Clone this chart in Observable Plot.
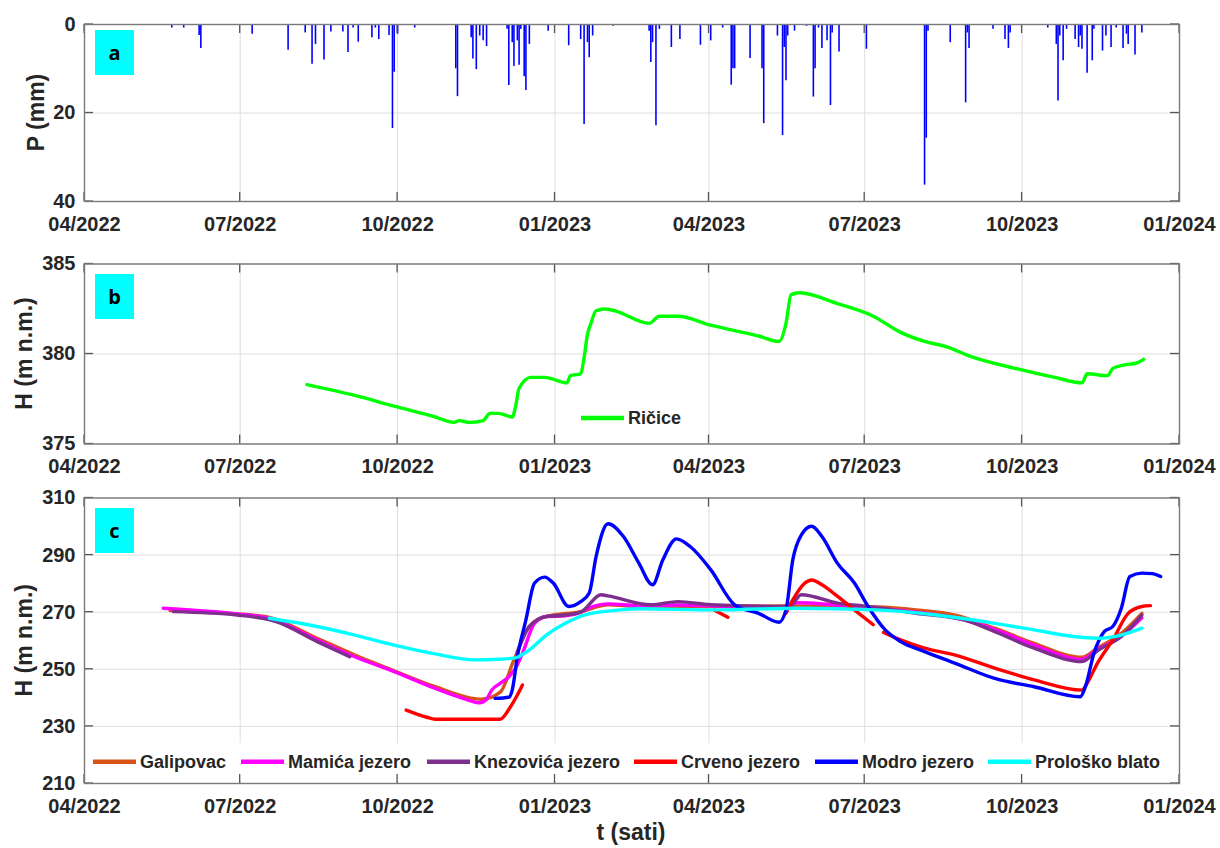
<!DOCTYPE html>
<html><head><meta charset="utf-8">
<script src="https://cdn.jsdelivr.net/npm/d3@7"></script>
<script src="https://cdn.jsdelivr.net/npm/@observablehq/plot@0.6"></script>
<style>
body{margin:0;background:#fff;overflow:hidden;}
#chart{position:relative;width:1220px;height:848px;}
#chart svg{position:absolute;left:0;}
</style></head><body><div id="chart"></div>
<script>
// ---------- DATA ----------
const xTickDates = ["2022-04-01","2022-07-01","2022-10-01","2023-01-01","2023-04-01","2023-07-01","2023-10-01","2024-01-01"];
const xTickLabels = ["04/2022","07/2022","10/2022","01/2023","04/2023","07/2023","10/2023","01/2024"];

const precipDates = ["2022-05-22","2022-05-29","2022-06-07","2022-06-08","2022-07-08","2022-07-29","2022-08-08","2022-08-12","2022-08-14","2022-08-19","2022-08-23","2022-08-30","2022-09-02","2022-09-05","2022-09-08","2022-09-16","2022-09-18","2022-09-20","2022-09-26","2022-09-28","2022-09-29","2022-10-01","2022-10-11","2022-11-04","2022-11-05","2022-11-13","2022-11-14","2022-11-16","2022-11-18","2022-11-20","2022-11-22","2022-12-04","2022-12-05","2022-12-07","2022-12-08","2022-12-10","2022-12-11","2022-12-12","2022-12-14","2022-12-15","2022-12-17","2022-12-28","2023-01-09","2023-01-16","2023-01-18","2023-01-20","2023-01-21","2023-01-23","2023-02-04","2023-02-25","2023-02-26","2023-02-27","2023-03-01","2023-03-03","2023-03-10","2023-03-15","2023-03-27","2023-04-02","2023-04-09","2023-04-14","2023-04-15","2023-04-16","2023-04-25","2023-05-02","2023-05-03","2023-05-11","2023-05-14","2023-05-15","2023-05-16","2023-05-17","2023-05-21","2023-05-28","2023-06-01","2023-06-02","2023-06-04","2023-06-06","2023-06-09","2023-06-11","2023-06-12","2023-06-16","2023-07-02","2023-08-05","2023-08-06","2023-08-07","2023-08-20","2023-08-29","2023-08-30","2023-08-31","2023-09-14","2023-09-21","2023-09-23","2023-09-24","2023-10-16","2023-10-21","2023-10-22","2023-10-23","2023-10-25","2023-10-27","2023-11-01","2023-11-03","2023-11-04","2023-11-05","2023-11-08","2023-11-11","2023-11-12","2023-11-17","2023-11-19","2023-11-22","2023-11-25","2023-11-29","2023-12-01","2023-12-02","2023-12-06","2023-12-10"];
const precipMm = [0.8,0.8,2.5,5.4,2.2,5.8,1.9,9.0,4.5,8.0,1.7,1.7,6.3,0.8,4.0,3.0,0.8,3.4,2.5,23.5,10.8,2.2,0.8,10.0,16.3,3.0,7.8,10.2,2.6,3.7,5.0,1.1,13.8,4.1,9.5,3.7,9.2,1.1,11.8,14.9,4.5,1.5,4.8,3.4,22.6,4.1,7.5,2.6,0.4,1.5,8.6,4.1,22.9,1.1,5.2,3.4,4.7,3.7,0.8,13.7,10.0,10.0,7.7,10.0,22.4,2.6,25.1,5.2,12.7,2.6,1.5,0.4,16.4,10.0,0.8,5.4,3.7,18.3,1.9,6.2,5.6,36.3,25.7,1.5,4.1,17.7,1.9,5.4,1.1,3.4,5.4,1.9,0.8,4.5,17.3,2.6,8.2,1.1,3.4,5.2,2.6,5.6,11.0,8.2,1.1,6.0,2.6,5.2,0.8,5.4,2.2,4.5,6.9,1.9];

const ricice = [["2022-08-09",378.3],["2022-09-06",377.7],["2022-09-29",377.1],["2022-10-23",376.5],["2022-11-03",376.2],["2022-11-06",376.3],["2022-11-12",376.2],["2022-11-20",376.3],["2022-11-24",376.7],["2022-11-29",376.7],["2022-12-07",376.5],["2022-12-09",377.1],["2022-12-11",378.1],["2022-12-18",378.7],["2022-12-26",378.7],["2023-01-08",378.4],["2023-01-10",378.8],["2023-01-16",378.9],["2023-01-18",379.8],["2023-01-20",381.1],["2023-01-22",381.7],["2023-01-25",382.4],["2023-01-30",382.5],["2023-02-05",382.4],["2023-02-25",381.7],["2023-03-03",382.1],["2023-03-14",382.1],["2023-04-02",381.6],["2023-04-16",381.3],["2023-04-30",381.0],["2023-05-12",380.7],["2023-05-16",381.7],["2023-05-19",383.3],["2023-05-24",383.4],["2023-06-15",382.8],["2023-07-06",382.1],["2023-07-22",381.2],["2023-08-05",380.7],["2023-08-18",380.4],["2023-08-31",379.9],["2023-09-27",379.2],["2023-10-20",378.7],["2023-11-05",378.4],["2023-11-08",378.9],["2023-11-20",378.8],["2023-11-23",379.2],["2023-11-30",379.4],["2023-12-07",379.5],["2023-12-11",379.7]];

const galipovac = [["2022-05-21",270.6],["2022-06-29",269.4],["2022-07-18",268.2],["2022-08-15",260.9],["2022-09-06",255.0],["2022-09-29",249.5],["2022-10-23",243.9],["2022-11-19",239.5],["2022-11-30",242.0],["2022-12-08",253.3],["2022-12-17",265.0],["2022-12-27",268.5],["2023-01-16",270.2],["2023-02-01",272.6],["2023-02-19",272.0],["2023-04-06",272.0],["2023-05-16",272.2],["2023-06-15",272.0],["2023-07-08",271.8],["2023-07-31",270.8],["2023-08-23",269.0],["2023-09-15",264.4],["2023-10-08",259.1],["2023-11-05",254.2],["2023-11-14",257.4],["2023-11-28",262.6],["2023-12-10",269.6]];
const mamica = [["2022-05-17",271.4],["2022-06-29",269.4],["2022-07-18",267.9],["2022-08-15",260.3],["2022-09-06",254.4],["2022-09-29",249.2],["2022-10-23",243.3],["2022-11-10",239.5],["2022-11-18",238.3],["2022-11-22",239.5],["2022-11-25",242.7],["2022-11-30",245.1],["2022-12-05",247.4],["2022-12-09",250.4],["2022-12-13",255.6],["2022-12-20",266.1],["2022-12-27",268.5],["2023-01-07",268.7],["2023-01-16",269.9],["2023-01-23",272.0],["2023-02-01",272.9],["2023-02-19",272.3],["2023-03-14",272.5],["2023-04-02",272.2],["2023-05-12",271.5],["2023-05-23",273.3],["2023-06-15",272.5],["2023-07-08",271.5],["2023-07-31",270.0],["2023-08-23",268.0],["2023-09-15",264.0],["2023-10-08",258.5],["2023-11-05",253.5],["2023-11-14",257.0],["2023-11-28",261.5],["2023-12-10",268.0]];
const knezovica = [["2022-05-23",270.2],["2022-06-29",269.0],["2022-07-22",266.7],["2022-08-15",259.7],["2022-09-03",254.4],["2022-10-15",null],["2022-12-10",256.0],["2022-12-17",265.0],["2022-12-27",268.5],["2023-01-07",269.0],["2023-01-16",270.0],["2023-01-28",276.1],["2023-02-01",275.7],["2023-02-26",272.6],["2023-03-14",273.7],["2023-04-02",272.6],["2023-05-18",272.0],["2023-05-25",276.1],["2023-06-15",273.2],["2023-07-03",272.0],["2023-07-31",269.6],["2023-08-28",267.3],["2023-09-15",263.2],["2023-10-08",257.4],["2023-11-05",252.7],["2023-11-14",256.5],["2023-11-28",261.5],["2023-12-10",269.0]];
const crveno = [["2022-10-06",235.7],["2022-10-18",233.2],["2022-10-23",232.5],["2022-11-30",232.5],["2022-12-06",236.9],["2022-12-10",241.0],["2022-12-13",244.5],["2023-01-01",null],["2023-04-04",270.8],["2023-04-12",268.2],["2023-04-20",null],["2023-05-16",269.6],["2023-05-20",274.3],["2023-05-27",280.2],["2023-05-31",281.3],["2023-06-06",279.6],["2023-06-15",275.6],["2023-06-25",270.8],["2023-07-06",265.6],["2023-07-09",null],["2023-07-12",262.9],["2023-07-22",260.3],["2023-08-05",257.4],["2023-08-23",255.0],["2023-09-15",250.4],["2023-10-08",246.3],["2023-11-05",242.7],["2023-11-08",245.1],["2023-11-14",252.1],["2023-11-23",260.3],["2023-12-02",269.6],["2023-12-10",272.0],["2023-12-15",272.3]];
const modro = [["2022-11-27",239.8],["2022-12-05",240.2],["2022-12-07",242.7],["2022-12-10",254.4],["2022-12-15",267.3],["2022-12-20",280.2],["2022-12-26",282.3],["2022-12-31",280.2],["2023-01-09",272.0],["2023-01-16",273.7],["2023-01-21",276.7],["2023-01-25",289.5],["2023-02-01",301.0],["2023-02-10",296.5],["2023-02-19",287.2],["2023-02-27",279.6],["2023-03-05",288.3],["2023-03-13",295.7],["2023-03-21",293.0],["2023-04-02",284.9],["2023-04-16",272.6],["2023-04-30",269.6],["2023-05-12",266.5],["2023-05-16",270.8],["2023-05-20",288.4],["2023-05-25",297.1],["2023-05-31",300.1],["2023-06-06",296.5],["2023-06-15",287.2],["2023-06-25",280.2],["2023-07-03",272.0],["2023-07-13",263.8],["2023-07-22",259.7],["2023-08-05",256.2],["2023-08-23",252.1],["2023-09-15",246.8],["2023-10-08",243.9],["2023-11-04",240.4],["2023-11-07",243.9],["2023-11-12",255.6],["2023-11-18",263.2],["2023-11-23",265.0],["2023-11-28",271.4],["2023-12-03",282.5],["2023-12-10",283.7],["2023-12-16",283.5],["2023-12-21",282.5]];
const prolosko = [["2022-07-18",267.9],["2022-08-15",265.0],["2022-09-06",262.0],["2022-09-29",258.5],["2022-10-23",255.4],["2022-11-15",253.3],["2022-11-29",253.5],["2022-12-08",253.9],["2022-12-17",256.8],["2022-12-27",262.0],["2023-01-07",266.1],["2023-01-18",269.0],["2023-02-08",270.8],["2023-02-19",271.2],["2023-04-06",270.8],["2023-05-23",271.4],["2023-07-08",270.8],["2023-08-12",269.0],["2023-09-15",266.1],["2023-10-08",263.8],["2023-10-31",261.5],["2023-11-14",260.9],["2023-11-28",262.0],["2023-12-10",264.4]];

const seriesNames = ["Galipovac","Mamića jezero","Knezovića jezero","Crveno jezero","Modro jezero","Prološko blato"];
const seriesColors = ["#D95319","#FF00FF","#7E2F8E","#FF0000","#0000FF","#00FFFF"];
const seriesData = [galipovac, mamica, knezovica, crveno, modro, prolosko];

// ---------- BUILD ----------
const FONT = "'Liberation Sans', Arial, Helvetica, sans-serif";
const TXT = "#262626";
const xDomain = [new Date("2022-04-01"), new Date("2024-01-01")];
const xTicks = xTickDates.map(d => new Date(d));

const precip = precipDates.map((d, i) => ({date: new Date(d), p: precipMm[i]}));
const ricRows = ricice.map(([d, h]) => ({date: new Date(d), h}));
const lakeRows = seriesNames.flatMap((name, i) => seriesData[i].map(([d, h]) => ({series: name, date: new Date(d), h})));

function frameBox(dim) {
  return {L: dim.marginLeft, R: dim.width - dim.marginRight, T: dim.marginTop, B: dim.height - dim.marginBottom};
}
function inwardTicks(yTicks) {
  return (index, scales, values, dim) => {
    const {L, R, T, B} = frameBox(dim);
    const g = d3.create("svg:g").attr("stroke", "#555").attr("stroke-width", 1.3);
    for (const t of xTicks) {
      const px = scales.x(t);
      g.append("line").attr("x1", px).attr("x2", px).attr("y1", B).attr("y2", B - 9);
      g.append("line").attr("x1", px).attr("x2", px).attr("y1", T).attr("y2", T + 9);
    }
    for (const v of yTicks) {
      const py = scales.y(v);
      g.append("line").attr("x1", L).attr("x2", L + 9).attr("y1", py).attr("y2", py);
      g.append("line").attr("x1", R).attr("x2", R - 9).attr("y1", py).attr("y2", py);
    }
    return g.node();
  };
}
function tagBox(letter, dy) {
  return (index, scales, values, dim) => {
    const {L, T} = frameBox(dim);
    const g = d3.create("svg:g");
    g.append("rect").attr("x", L + 11).attr("y", T + dy).attr("width", 39).attr("height", 45).attr("fill", "#00FFFF");
    g.append("text").attr("x", L + 30.5).attr("y", T + dy + 22.5).attr("text-anchor", "middle")
      .attr("dominant-baseline", "central").attr("font-family", "'Open Sans', 'Noto Sans', sans-serif")
      .attr("font-size", 20).attr("font-weight", "bold").attr("fill", "#000").text(letter);
    return g.node();
  };
}
function yTitle(label, cx) {
  return (index, scales, values, dim) => {
    const {T, B} = frameBox(dim);
    return d3.create("svg:text").attr("transform", `translate(${cx},${(T + B) / 2}) rotate(-90)`)
      .attr("text-anchor", "middle").attr("dominant-baseline", "central")
      .attr("font-size", 23).attr("font-weight", "bold").attr("fill", TXT).text(label).node();
  };
}
function legend(items, box, textXs, ty) {
  return (index, scales, values, dim) => {
    const g = d3.create("svg:g");
    g.append("rect").attr("x", box[0]).attr("y", box[1]).attr("width", box[2]).attr("height", box[3]).attr("fill", "white");
    items.forEach(([name, color], i) => {
      const tx = textXs[i];
      g.append("line").attr("x1", tx - 47).attr("x2", tx - 4).attr("y1", ty).attr("y2", ty)
        .attr("stroke", color).attr("stroke-width", 4.5);
      g.append("text").attr("x", tx).attr("y", ty).attr("dominant-baseline", "central").attr("text-anchor", "start")
        .attr("font-size", 18).attr("font-weight", "bold").attr("fill", TXT).text(name);
    });
    return g.node();
  };
}

function panel({height, mT, mB, yDomain, yReverse, yTicks, marks, extra}) {
  return Plot.plot({
    width: 1220, height, marginLeft: 84, marginRight: 41, marginTop: mT, marginBottom: mB,
    style: {fontFamily: FONT, fontSize: "20px", fontWeight: "bold", color: TXT, background: "white", overflow: "visible"},
    x: {type: "utc", domain: xDomain, axis: null},
    y: {domain: yDomain, reverse: yReverse, axis: null},
    color: {domain: seriesNames, range: seriesColors},
    marks: [
      Plot.gridX(xTicks, {stroke: "#dedede", strokeOpacity: 1, strokeWidth: 1}),
      Plot.gridY(yTicks, {stroke: "#dedede", strokeOpacity: 1, strokeWidth: 1}),
      ...marks,
      ...extra,
      inwardTicks(yTicks),
      Plot.axisX(xTicks, {tickFormat: (d, i) => xTickLabels[i], tickSize: 0, tickPadding: 15, label: null, fontSize: 20, fontWeight: "bold"}),
      Plot.axisY(yTicks, {tickSize: 0, tickPadding: 9, label: null, fontSize: 20, fontWeight: "bold"}),
      Plot.frame({stroke: "#7a7a7a", strokeWidth: 1.4})
    ]
  });
}

const chart = document.getElementById("chart");

const pa = panel({
  height: 240, mT: 24, mB: 39, yDomain: [0, 40], yReverse: true, yTicks: [0, 20, 40],
  marks: [Plot.ruleX(precip, {x: "date", y1: 0, y2: "p", stroke: "#0000FF", strokeWidth: 1.6})],
  extra: [tagBox("a", 6), yTitle("P (mm)", 36)]
});
pa.style.top = "0px";

const pb = panel({
  height: 240, mT: 23.5, mB: 36.5, yDomain: [375, 385], yReverse: false, yTicks: [375, 380, 385],
  marks: [Plot.line(ricRows, {x: "date", y: "h", stroke: "#00FF00", strokeWidth: 3.4, curve: "monotone-x"})],
  extra: [tagBox("b", 10.5), yTitle("H (m n.m.)", 24), legend([["Ričice", "#00FF00"]], [572, 165, 120, 28], [628], 178)]
});
pb.style.top = "240px";

const pc = panel({
  height: 368, mT: 17.5, mB: 65, yDomain: [210, 310], yReverse: false, yTicks: [210, 230, 250, 270, 290, 310],
  marks: [Plot.line(lakeRows, {x: "date", y: "h", z: "series", stroke: "series", strokeWidth: 3.4, curve: "monotone-x"})],
  extra: [
    tagBox("c", 10.5), yTitle("H (m n.m.)", 24),
    legend(seriesNames.map((n, i) => [n, seriesColors[i]]), [86, 263, 1091, 38], [140, 288, 474, 681, 862, 1035], 281.7),
    (index, scales, values, dim) => d3.create("svg:text").attr("x", 631).attr("y", 352)
      .attr("text-anchor", "middle").attr("dominant-baseline", "central")
      .attr("font-size", 23).attr("font-weight", "bold").attr("fill", TXT).text("t (sati)").node()
  ]
});
pc.style.top = "480px";

chart.append(pa, pb, pc);
</script></body></html>
